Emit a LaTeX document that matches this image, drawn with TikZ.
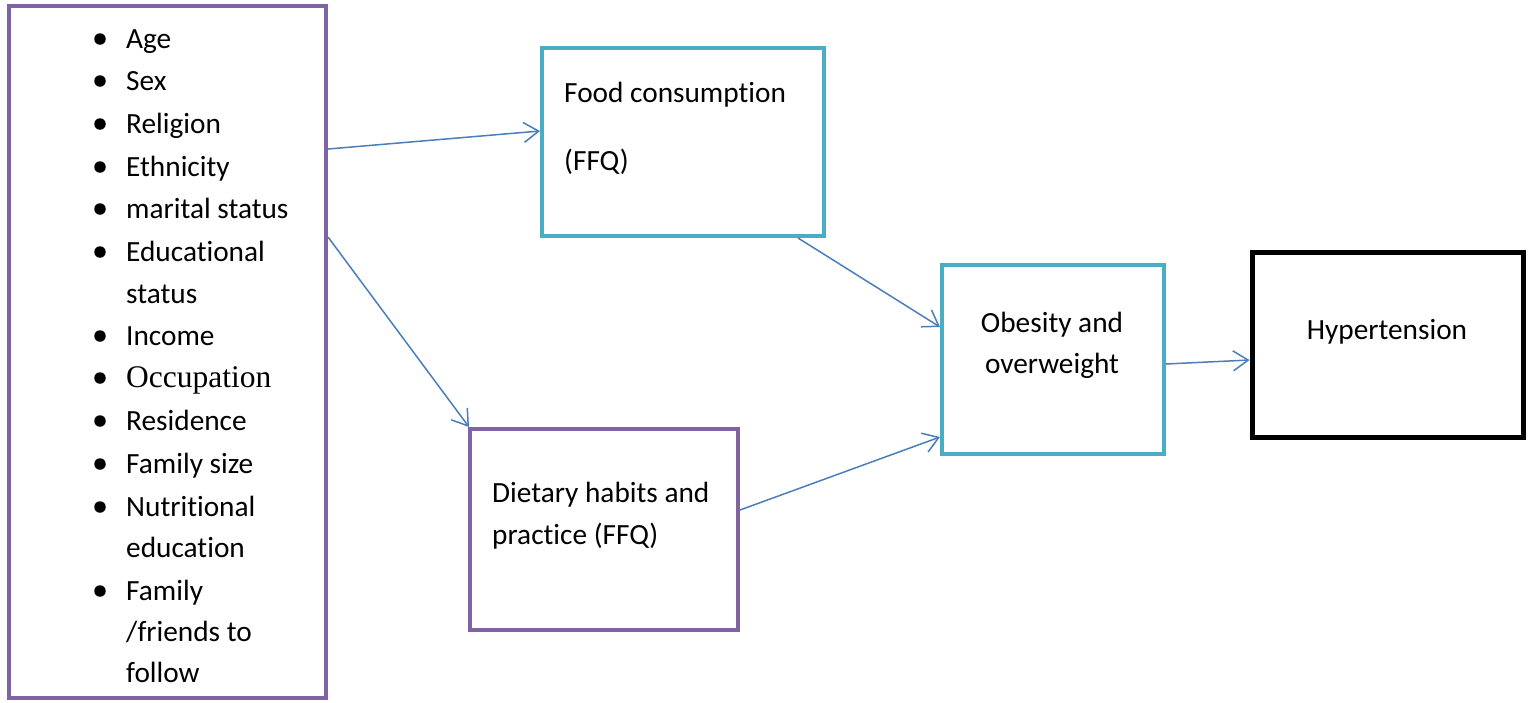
\documentclass[tikz,border=0pt]{standalone}
\usepackage{fontspec}
\setmainfont{Carlito}[Ligatures=NoCommon]
\newfontfamily\occfont{Liberation Serif}
\usetikzlibrary{arrows.meta}
\definecolor{boxpurple}{HTML}{8064A2}
\definecolor{boxteal}{HTML}{4BACC6}
\definecolor{arrowblue}{HTML}{4A7EBB}
\tikzset{
  purplebox/.style={draw=boxpurple, line width=4pt, fill=none, inner sep=0pt},
  tealbox/.style={draw=boxteal, line width=4pt, fill=none, inner sep=0pt},
  blackbox/.style={draw=black, line width=5pt, fill=none, inner sep=0pt},
  txt/.style={inner sep=0pt, anchor=base west, font=\fontsize{29.3}{34}\selectfont},
  ctxt/.style={inner sep=0pt, anchor=base, font=\fontsize{29.3}{34}\selectfont},
  bul/.style={circle, fill=black, inner sep=0pt, minimum size=11.5pt},
  conn/.style={draw=arrowblue, line width=1.5pt, -{Straight Barb[length=15pt,width=20pt,line width=1.5pt]}}
}
\begin{document}
\begin{tikzpicture}[x=1pt,y=-1pt]
\useasboundingbox (0,0) rectangle (1535,702);
% boxes
\node[purplebox, minimum width=317pt, minimum height=692pt] (factors) at (167.5,352) {};
\node[tealbox, minimum width=282pt, minimum height=188pt] (food) at (683,142) {};
\node[purplebox, minimum width=268pt, minimum height=201pt] (diet) at (604,529.5) {};
\node[tealbox, minimum width=222pt, minimum height=189pt] (obes) at (1053,359.5) {};
\node[blackbox, minimum width=271pt, minimum height=185pt] (hyp) at (1387.5,344.5) {};
% bullets
\foreach \yb in {48,90,133,176,218,261,345,387,430,473,516,600}{
  \node[bul] at (100,\yb-9) {};
}
% list
\node[txt] (l1) at (126,48) {Age};
\node[txt] (l2) at (126,90) {Sex};
\node[txt] (l3) at (126,133) {Religion};
\node[txt] (l4) at (126,176) {Ethnicity};
\node[txt] (l5) at (126,218) {marital status};
\node[txt] (l6) at (126,261) {Educational};
\node[txt] (l6b) at (126,303) {status};
\node[txt] (l7) at (126,345) {Income};
\node[txt, font=\occfont\fontsize{31.5}{34}\selectfont] (l8) at (126,387) {Occupation};
\node[txt] (l9) at (126,430) {Residence};
\node[txt] (l10) at (126,473) {Family size};
\node[txt] (l11) at (126,516) {Nutritional};
\node[txt] (l11b) at (126,557) {education};
\node[txt] (l12) at (126,600) {Family};
\node[txt] (l12b) at (126,641) {/friends to};
\node[txt] (l12c) at (126,682) {follow};
% box texts
\node[txt] (foodt1) at (564,102) {Food consumption};
\node[txt] (foodt2) at (564,170) {(FFQ)};
\node[txt] (diett1) at (492,502) {Dietary habits and};
\node[txt] (diett2) at (492,544) {practice (FFQ)};
\node[ctxt] (obest1) at (1052,332) {Obesity and};
\node[ctxt] (obest2) at (1052,373) {overweight};
\node[ctxt] (hypt) at (1387,339) {Hypertension};
% connectors
\draw[conn] (factors.east |- 0,149) -- (food.west |- 0,131);
\draw[conn] (factors.east |- 0,237) -- (diet.north west -| 469,0);
\draw[conn] (food.south -| 798,0) -- (obes.west |- 0,327);
\draw[conn] (diet.east |- 0,510) -- (obes.west |- 0,437);
\draw[conn] (obes.east |- 0,364) -- (hyp.west |- 0,360);
\end{tikzpicture}
\end{document}
